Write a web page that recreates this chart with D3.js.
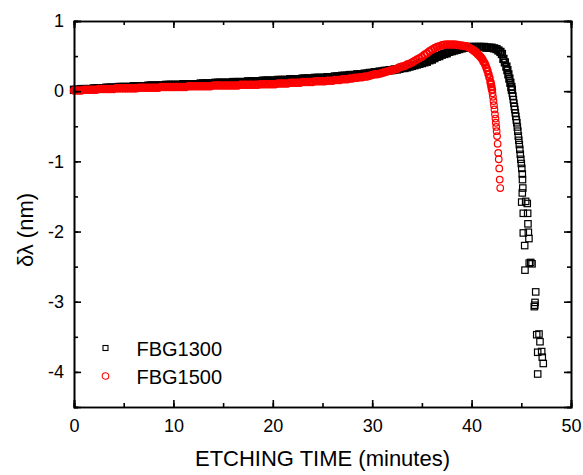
<!DOCTYPE html>
<html>
<head>
<meta charset="utf-8">
<script src="https://cdn.jsdelivr.net/npm/d3@7/dist/d3.min.js"></script>
<style>
	body { margin: 0; background: #fff; }
	text { font-family: "Liberation Sans", Arial, sans-serif; fill: #000; }
	.axis path, .axis line { stroke: #000; stroke-width: 1.6; }
	.axis text { font-size: 18px; }
</style>
</head>
<body>
<div id="chart"></div>
<script>
// Etching time grid shared by both gratings (minutes), 0 .. 40
var gridTime = [
	0,0.25,0.5,0.75,1,1.25,1.5,1.75,2,2.25,2.5,2.75,3,3.25,3.5,3.75,4,4.25,4.5,4.75,
	5,5.25,5.5,5.75,6,6.25,6.5,6.75,7,7.25,7.5,7.75,8,8.25,8.5,8.75,9,9.25,9.5,9.75,
	10,10.25,10.5,10.75,11,11.25,11.5,11.75,12,12.25,12.5,12.75,13,13.25,13.5,13.75,14,14.25,14.5,14.75,
	15,15.25,15.5,15.75,16,16.25,16.5,16.75,17,17.25,17.5,17.75,18,18.25,18.5,18.75,19,19.25,19.5,19.75,
	20,20.25,20.5,20.75,21,21.25,21.5,21.75,22,22.25,22.5,22.75,23,23.25,23.5,23.75,24,24.25,24.5,24.75,
	25,25.25,25.5,25.75,26,26.25,26.5,26.75,27,27.25,27.5,27.75,28,28.25,28.5,28.75,29,29.25,29.5,29.75,
	30,30.25,30.5,30.75,31,31.25,31.5,31.75,32,32.25,32.5,32.75,33,33.25,33.5,33.75,34,34.25,34.5,34.75,
	35,35.25,35.5,35.75,36,36.25,36.5,36.75,37,37.25,37.5,37.75,38,38.25,38.5,38.75,39,39.25,39.5,39.75,
	40
];

// Wavelength shift (nm) on the grid
var fbg1300Grid = [
	0.02,0.02,0.02,0.03,0.03,0.03,0.03,0.03,0.04,0.04,0.04,0.04,0.04,0.05,0.05,0.05,0.05,0.05,0.06,0.06,
	0.06,0.06,0.06,0.06,0.07,0.07,0.07,0.07,0.07,0.07,0.08,0.08,0.08,0.08,0.08,0.08,0.08,0.09,0.09,0.09,
	0.09,0.09,0.09,0.09,0.10,0.10,0.10,0.10,0.10,0.10,0.10,0.11,0.11,0.11,0.11,0.11,0.11,0.12,0.12,0.12,
	0.12,0.12,0.12,0.12,0.13,0.13,0.13,0.13,0.13,0.13,0.14,0.14,0.14,0.14,0.14,0.14,0.15,0.15,0.15,0.15,
	0.15,0.15,0.16,0.16,0.16,0.16,0.16,0.17,0.17,0.17,0.17,0.17,0.18,0.18,0.18,0.18,0.18,0.19,0.19,0.19,
	0.19,0.19,0.20,0.20,0.20,0.21,0.21,0.21,0.22,0.22,0.22,0.23,0.23,0.23,0.24,0.24,0.24,0.25,0.25,0.26,
	0.26,0.27,0.27,0.28,0.28,0.29,0.29,0.30,0.30,0.31,0.31,0.32,0.33,0.33,0.34,0.35,0.36,0.37,0.38,0.39,
	0.40,0.41,0.42,0.44,0.45,0.47,0.49,0.50,0.52,0.53,0.54,0.56,0.57,0.58,0.59,0.60,0.61,0.62,0.62,0.63,
	0.63
];
var fbg1500Grid = [
	0.01,0.01,0.01,0.01,0.02,0.02,0.02,0.02,0.02,0.02,0.03,0.03,0.03,0.03,0.03,0.03,0.03,0.04,0.04,0.04,
	0.04,0.04,0.04,0.04,0.04,0.04,0.05,0.05,0.05,0.05,0.05,0.05,0.05,0.05,0.05,0.06,0.06,0.06,0.06,0.06,
	0.06,0.06,0.06,0.06,0.06,0.06,0.07,0.07,0.07,0.07,0.07,0.07,0.07,0.07,0.07,0.07,0.08,0.08,0.08,0.08,
	0.08,0.08,0.08,0.08,0.08,0.08,0.08,0.09,0.09,0.09,0.09,0.09,0.09,0.09,0.09,0.10,0.10,0.10,0.10,0.10,
	0.10,0.10,0.11,0.11,0.11,0.11,0.11,0.12,0.12,0.12,0.12,0.12,0.13,0.13,0.13,0.13,0.13,0.14,0.14,0.14,
	0.14,0.14,0.15,0.15,0.15,0.16,0.16,0.16,0.17,0.17,0.17,0.18,0.18,0.19,0.19,0.20,0.20,0.21,0.21,0.22,
	0.23,0.24,0.24,0.25,0.26,0.27,0.28,0.29,0.30,0.31,0.32,0.34,0.35,0.36,0.38,0.39,0.41,0.43,0.45,0.47,
	0.49,0.52,0.54,0.57,0.59,0.61,0.63,0.64,0.655,0.66,0.665,0.665,0.665,0.665,0.66,0.655,0.65,0.645,0.64,0.62,
	0.60
];

var fbg1300TailTime = [
	40.25,40.5,40.75,41,41.25,41.5,41.75,42,42.25,42.5,42.7,42.9,43.05,43.2,43.35,43.5,43.6,43.7,43.8,43.9,
	44,44.05,44.1,44.15,44.2,44.25,44.3,44.35,44.4,44.45,44.5,44.55,44.6,44.65,44.7,44.75,44.8,44.85,44.9,44.95,
	45,45.05,45.1,45.12,45.15,45.1,45.04,45.44,45.6,45.2,45.64,45.67,45.2,45.71,45.77,45.34,45.8,46.08,45.95,45.37,
	46.45,46.38,46.31,46.35,46.78,46.55,46.88,46.65,47.05,47.11,47.21,46.65
];
var fbg1300Tail = [
	0.63,0.63,0.63,0.63,0.63,0.62,0.62,0.62,0.61,0.60,0.58,0.56,0.53,0.46,0.41,0.35,0.30,0.24,0.18,0.12,
	0.06,0.02,-0.03,-0.07,-0.12,-0.17,-0.22,-0.26,-0.31,-0.36,-0.41,-0.45,-0.51,-0.57,-0.64,-0.70,-0.76,-0.83,-0.90,-0.97,
	-1.03,-1.10,-1.18,-1.26,-1.38,-1.45,-1.58,-1.57,-1.60,-1.74,-1.74,-1.89,-2.02,-2.01,-2.10,-2.20,-2.45,-2.46,-2.44,-2.55,
	-2.86,-3.01,-3.07,-3.05,-3.46,-3.47,-3.57,-3.72,-3.71,-3.79,-3.88,-4.03
];
var fbg1500TailTime = [
	40.1,40.2,40.3,40.4,40.5,40.6,40.7,40.8,40.9,41,41.1,41.2,41.3,41.4,41.5,41.6,41.7,41.8,41.9,41.95,
	42,42.05,42.1,42.15,42.2,42.25,42.3,42.35,42.4,42.44,42.48,42.52,42.56,42.62,42.68,42.73,42.78,42.83,42.88
];
var fbg1500Tail = [
	0.59,0.58,0.57,0.56,0.55,0.53,0.52,0.50,0.49,0.47,0.45,0.42,0.40,0.37,0.33,0.29,0.24,0.19,0.13,0.10,
	0.06,0.02,-0.03,-0.08,-0.14,-0.20,-0.26,-0.33,-0.39,-0.45,-0.51,-0.57,-0.64,-0.75,-0.88,-0.97,-1.10,-1.26,-1.38
];

var seriesNames = ["FBG1300", "FBG1500"];
var xTicks = [0, 10, 20, 30, 40, 50];
var yTicks = [-4, -3, -2, -1, 0, 1];

var margin = {top: 21, right: 12, bottom: 68, left: 74};
var width = 583 - margin.left - margin.right,
	height = 475 - margin.top - margin.bottom;

var x = d3.scaleLinear().domain([0, 50]).range([0, width]);
var y = d3.scaleLinear().domain([-4.5, 1]).range([height, 0]);

function pairs(t, v) {
	return t.map(function(d, i) { return {t: d, v: v[i]}; });
}
var data1300 = pairs(gridTime, fbg1300Grid).concat(pairs(fbg1300TailTime, fbg1300Tail));
var data1500 = pairs(gridTime, fbg1500Grid).concat(pairs(fbg1500TailTime, fbg1500Tail));

var svg = d3.select("#chart")
	.append("svg")
	.attr("width", 583)
	.attr("height", 475)
	.append("g")
	.attr("transform", "translate(" + margin.left + "," + margin.top + ")");

// Markers: squares first, circles on top.
// Dense part is drawn a little heavier so the overlapping marks read as a solid band.
function strokeFor(d) { return d.v > 0 ? 1.9 : 1.2; }

svg.append("g").selectAll("rect")
	.data(data1300)
	.enter().append("rect")
	.attr("x", function(d) { return x(d.t) - 3.2; })
	.attr("y", function(d) { return y(d.v) - 3.2; })
	.attr("width", 6.4)
	.attr("height", 6.4)
	.attr("fill", "none")
	.attr("stroke", "#000")
	.attr("stroke-width", strokeFor);

svg.append("g").selectAll("circle")
	.data(data1500)
	.enter().append("circle")
	.attr("cx", function(d) { return x(d.t); })
	.attr("cy", function(d) { return y(d.v); })
	.attr("r", 3.3)
	.attr("fill", "none")
	.attr("stroke", "#ff0000")
	.attr("stroke-width", strokeFor);

// Axes, ticks pointing inward
var xMinor = d3.range(0, 51, 5), yMinor = d3.range(-4.5, 1.01, 0.5);

svg.append("g").attr("class", "axis")
	.attr("transform", "translate(0," + height + ")")
	.call(d3.axisBottom(x).tickValues(xTicks).tickSize(-7).tickPadding(12).tickFormat(d3.format("d")));
svg.append("g").attr("class", "axis")
	.attr("transform", "translate(0," + height + ")")
	.call(d3.axisBottom(x).tickValues(xMinor).tickSize(-4).tickFormat(""));
svg.append("g").attr("class", "axis")
	.call(d3.axisTop(x).tickValues(xTicks).tickSize(-7).tickFormat(""));
svg.append("g").attr("class", "axis")
	.call(d3.axisTop(x).tickValues(xMinor).tickSize(-4).tickFormat(""));

svg.append("g").attr("class", "axis")
	.call(d3.axisLeft(y).tickValues(yTicks).tickSize(-7).tickPadding(10).tickFormat(d3.format("d")));
svg.append("g").attr("class", "axis")
	.call(d3.axisLeft(y).tickValues(yMinor).tickSize(-4).tickFormat(""));
svg.append("g").attr("class", "axis")
	.attr("transform", "translate(" + width + ",0)")
	.call(d3.axisRight(y).tickValues(yTicks).tickSize(-7).tickFormat(""));
svg.append("g").attr("class", "axis")
	.attr("transform", "translate(" + width + ",0)")
	.call(d3.axisRight(y).tickValues(yMinor).tickSize(-4).tickFormat(""));

svg.selectAll(".axis text").text(function() {
	return this.textContent.replace("\u2212", "-");
});

// Axis titles
svg.append("text")
	.attr("x", width / 2)
	.attr("y", 445)
	.attr("text-anchor", "middle")
	.style("font-size", "22px")
	.text("ETCHING TIME (minutes)");

svg.append("text")
	.attr("transform", "translate(-41," + (230 - margin.top) + ") rotate(-90)")
	.attr("text-anchor", "middle")
	.style("font-size", "22px")
	.text("δλ (nm)");

// Legend
var legend = svg.append("g").attr("transform", "translate(31.5,327)");
legend.append("rect")
	.attr("x", -2.5).attr("y", -2.5).attr("width", 5).attr("height", 5)
	.attr("fill", "none").attr("stroke", "#000").attr("stroke-width", 1.1);
legend.append("circle")
	.attr("cx", 0).attr("cy", 28).attr("r", 3.3)
	.attr("fill", "none").attr("stroke", "#ff0000").attr("stroke-width", 1.1);
legend.selectAll("text")
	.data(seriesNames)
	.enter().append("text")
	.attr("x", 31)
	.attr("y", function(d, i) { return 8 + i * 28; })
	.style("font-size", "20px")
	.text(function(d) { return d; });
</script>
</body>
</html>
